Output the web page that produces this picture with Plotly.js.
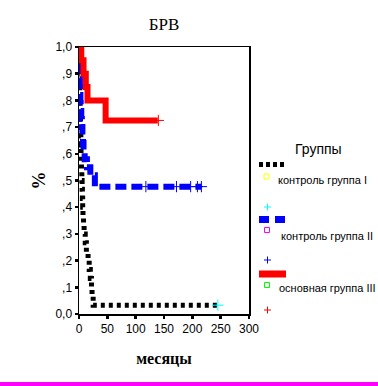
<!DOCTYPE html>
<html>
<head>
<meta charset="utf-8">
<script src="https://cdn.plot.ly/plotly-3.0.1.min.js"></script>
<style>
html,body{margin:0;padding:0;background:#fff;}
#chart{width:378px;height:382px;}
#bar{width:378px;height:4px;background:#ff00ff;}
</style>
</head>
<body>
<div id="chart"></div>
<div id="bar"></div>
<script>
// ---- data ----
var groupNames = ['контроль группа I', 'контроль группа II', 'основная группа III'];

// group I (black dotted) step curve
var g1Time = [0, 0.3, 0.6, 0.9, 1.2, 1.5, 1.8, 2.1, 2.4, 2.7, 3.0, 3.3, 3.6, 4.0, 4.5, 5.0, 5.5, 6, 6.5, 7, 8, 9, 11, 13, 16, 18, 20, 22, 23, 25, 245];
var g1Surv = [1, 0.967, 0.933, 0.9, 0.867, 0.833, 0.8, 0.767, 0.733, 0.7, 0.667, 0.633, 0.6, 0.567, 0.533, 0.5, 0.467, 0.433, 0.4, 0.367, 0.333, 0.3, 0.267, 0.233, 0.2, 0.167, 0.133, 0.1, 0.067, 0.033, 0.033];
var g1CensTime = [245];
var g1CensSurv = [0.033];

// group II (blue dashed) step curve
var g2Time = [0, 0.5, 1, 1.5, 2, 2.5, 3, 4, 5, 6, 7, 8, 10, 14, 20, 28, 216];
var g2Surv = [0.94, 0.91, 0.88, 0.85, 0.82, 0.79, 0.76, 0.73, 0.70, 0.67, 0.64, 0.61, 0.58, 0.55, 0.52, 0.477, 0.477];
var g2CensTime = [118, 172, 197, 209, 216];
var g2CensSurv = [0.477, 0.477, 0.477, 0.477, 0.477];

// group III (red solid) step curve
var g3Time = [0, 4, 8, 12, 15, 47, 139];
var g3Surv = [1, 0.95, 0.90, 0.85, 0.80, 0.725, 0.725];
var g3CensTime = [140];
var g3CensSurv = [0.725];

var yTickVals = [0, 0.1, 0.2, 0.3, 0.4, 0.5, 0.6, 0.7, 0.8, 0.9, 1.0];
var yTickText = ['0,0', ',1', ',2', ',3', ',4', ',5', ',6', ',7', ',8', ',9', '1,0'];
var xTickVals = [0, 50, 100, 150, 200, 250, 300];

// ---- plot geometry helpers (pixel -> paper) ----
var L = 79, R = 249, T = 47, B = 314;
function px(X){ return (X - L) / (R - L); }
function py(Y){ return (B - Y) / (B - T); }

var traces = [
  {x: g1Time, y: g1Surv, mode: 'lines', line: {shape: 'hv', color: '#000000', width: 5, dash: '4px,4px'}, hoverinfo: 'skip'},
  {x: g2Time, y: g2Surv, mode: 'lines', line: {shape: 'hv', color: '#0000ff', width: 6, dash: '11px,5px'}, hoverinfo: 'skip'},
  {x: g3Time, y: g3Surv, mode: 'lines', line: {shape: 'hv', color: '#ff0000', width: 6}, hoverinfo: 'skip'},
  {x: g1CensTime, y: g1CensSurv, mode: 'markers', marker: {symbol: 'cross-thin', size: 8, line: {color: '#00ffff', width: 1}}, cliponaxis: false},
  {x: g2CensTime, y: g2CensSurv, mode: 'markers', marker: {symbol: 'cross-thin', size: 8, line: {color: '#0000ff', width: 1}}, cliponaxis: false},
  {x: g3CensTime, y: g3CensSurv, mode: 'markers', marker: {symbol: 'cross-thin', size: 8, line: {color: '#ff0000', width: 1}}, cliponaxis: false}
];

function plus(cx, cy, color){
  return [
    {type:'line', xref:'paper', yref:'paper', x0:px(cx-3.5), x1:px(cx+3.5), y0:py(cy), y1:py(cy), line:{color:color, width:1}},
    {type:'line', xref:'paper', yref:'paper', x0:px(cx), x1:px(cx), y0:py(cy-3.5), y1:py(cy+3.5), line:{color:color, width:1}}
  ];
}
function square(cx, cy, color){
  return {type:'rect', xref:'paper', yref:'paper', x0:px(cx-2.5), x1:px(cx+2.5), y0:py(cy+2.5), y1:py(cy-2.5), line:{color:color, width:1}, fillcolor:'rgba(0,0,0,0)'};
}
function legLine(y, color, width, dash){
  return {type:'line', xref:'paper', yref:'paper', x0:px(259), x1:px(286), y0:py(y), y1:py(y), line:{color:color, width:width, dash:dash}};
}

var shapes = [
  legLine(164.5, '#000000', 5, '4px,3px'),
  square(266.5, 176.5, '#ffff00')
].concat(plus(267.5, 207, '#00ffff'))
 .concat([legLine(219.5, '#0000ff', 7, '10px,6px'), square(267, 230, '#ff00ff')])
 .concat(plus(267.5, 260, '#0000ff'))
 .concat([legLine(274, '#ff0000', 7, 'solid'), square(267, 285, '#00ff00')])
 .concat(plus(267.5, 310, '#ff0000'));

var legFont = {family: 'Liberation Sans, Arial, sans-serif', size: 11, color: '#000'};
var annotations = [
  {xref:'paper', yref:'paper', x:px(318), y:py(149), text:'Группы', showarrow:false, xanchor:'center', yanchor:'middle', font:{family:'Liberation Sans, Arial, sans-serif', size:14, color:'#000'}},
  {xref:'paper', yref:'paper', x:px(276), y:py(180), text:groupNames[0], showarrow:false, xanchor:'left', yanchor:'middle', font:legFont},
  {xref:'paper', yref:'paper', x:px(279), y:py(236), text:groupNames[1], showarrow:false, xanchor:'left', yanchor:'middle', font:legFont},
  {xref:'paper', yref:'paper', x:px(277), y:py(288), text:groupNames[2], showarrow:false, xanchor:'left', yanchor:'middle', font:legFont}
];

var tickFont = {family: 'Liberation Sans, Arial, sans-serif', size: 12, color: '#000'};

var layout = {
  width: 378, height: 382,
  margin: {l: L, r: 378 - R, t: T, b: 382 - B, pad: 0},
  paper_bgcolor: '#fff', plot_bgcolor: '#fff',
  showlegend: false,
  title: {text: 'БРВ', x: 164/378, y: 1 - 24/382, xref: 'container', yref: 'container', xanchor: 'center', yanchor: 'middle',
          font: {family: 'Liberation Serif, Times New Roman, serif', size: 17, color: '#000'}},
  xaxis: {
    range: [0, 300], tickvals: xTickVals, ticktext: xTickVals.map(String),
    showgrid: false, zeroline: false, showline: true, mirror: true, linecolor: '#000', linewidth: 1.5,
    ticks: 'outside', ticklen: 3, tickwidth: 2.5, tickcolor: '#000', tickfont: tickFont,
    title: {text: 'месяцы', standoff: 18, font: {family: 'Liberation Serif, Times New Roman, serif', size: 16, color: '#000', weight: 'bold'}},
    automargin: false, fixedrange: true
  },
  yaxis: {
    range: [0, 1], tickvals: yTickVals, ticktext: yTickText,
    showgrid: false, zeroline: false, showline: true, mirror: true, linecolor: '#000', linewidth: 1.5,
    ticks: 'outside', ticklen: 3, tickwidth: 2.5, tickcolor: '#000', tickfont: tickFont,
    title: {text: '%', standoff: 5, font: {family: 'Liberation Serif, Times New Roman, serif', size: 18, color: '#000', weight: 'bold'}},
    automargin: false, fixedrange: true
  },
  shapes: shapes,
  annotations: annotations
};

Plotly.newPlot('chart', traces, layout, {staticPlot: true, displayModeBar: false});
</script>
</body>
</html>
